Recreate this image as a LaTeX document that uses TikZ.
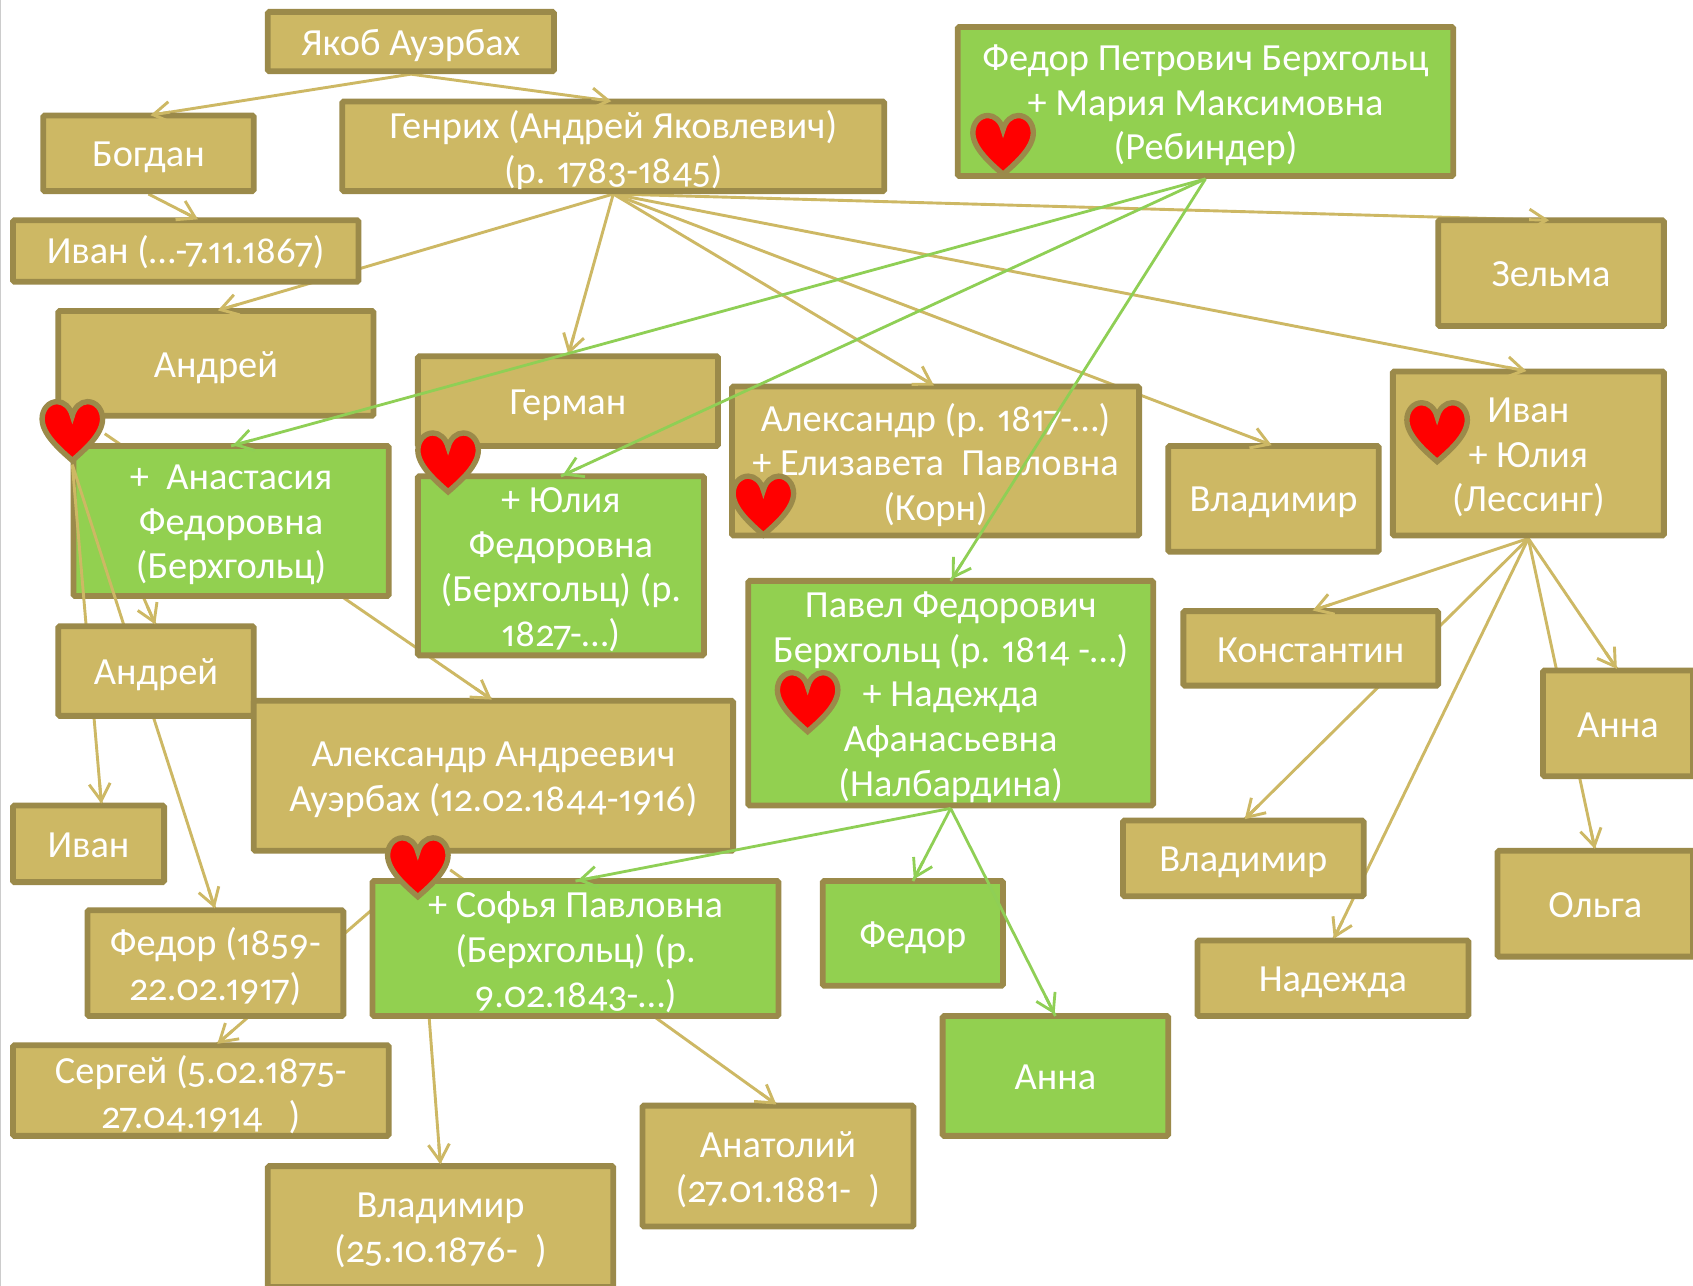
\documentclass[tikz,border=0pt]{standalone}
\usepackage{fontspec}
\setmainfont[Numbers={OldStyle,Proportional}]{Carlito}
\usetikzlibrary{arrows.meta,calc}
\pgfdeclarelayer{hidden}
\pgfdeclarelayer{anastlayer}
\pgfdeclarelayer{overanast}
\pgfdeclarelayer{boxes}
\pgfdeclarelayer{heads}
\pgfdeclarelayer{greenlines}
\pgfdeclarelayer{hearts}
\pgfsetlayers{main,hidden,anastlayer,overanast,boxes,heads,greenlines,hearts}
\definecolor{tanfill}{HTML}{CDB864}
\definecolor{tanedge}{HTML}{9B8A4A}
\definecolor{greenfill}{HTML}{92D050}
\definecolor{greenline}{HTML}{8FCF55}
\tikzset{
  base/.style={draw=tanedge,line width=5.8pt,rounded corners=1.5pt,outer sep=0pt,inner sep=0pt},
  tanbox/.style={base,fill=tanfill},
  greenbox/.style={base,fill=greenfill},
  boxtext/.style={text=white,align=center,inner sep=0pt,font=\fontsize{38.4}{44.8}\selectfont},
  conn/.style={line width=2.9pt,draw=tanfill},
  headtan/.style={-{Straight Barb[length=17pt,width=21pt,line width=2.9pt]},line width=2.9pt,draw=tanfill},
  gconn/.style={line width=2.8pt,draw=greenline},
  headgreen/.style={-{Straight Barb[length=17pt,width=21pt,line width=2.8pt]},line width=2.8pt,draw=greenline}
}
\def\tyo{3.6}
% box node plus its text node
\newcommand{\bx}[7][tanbox]{%
  \pgfmathsetmacro{\cxx}{(#3+#5)/2}%
  \pgfmathsetmacro{\cyy}{(#4+#6)/2}%
  \pgfmathsetmacro{\wdd}{(#5-#3)*1.0797}%
  \pgfmathsetmacro{\htt}{(#6-#4)*1.0797}%
  \node[#1,minimum width=\wdd pt,minimum height=\htt pt] (#2) at (\cxx,\cyy) {};
  \node[boxtext] (#2t) at (\cxx,\cyy+\tyo) {#7};}
\newcommand{\bs}[7][tanbox]{\def\tyo{1.4}\bx[#1]{#2}{#3}{#4}{#5}{#6}{#7}\def\tyo{3.6}}
\newcommand{\hrt}[3]{%
  \node[minimum width=64.8pt,minimum height=62pt,inner sep=0pt,outer sep=0pt] (#1) at (#2,#3) {};
  \draw[shift={(#2,#3)},line width=5.4pt,draw=tanedge,fill=red,line join=miter]
    (0,-14) .. controls (-2,-22) and (-8,-27) .. (-14,-27)
    .. controls (-22,-27) and (-28,-20) .. (-28,-11)
    .. controls (-28,3) and (-12,17) .. (0,27.5)
    .. controls (12,17) and (28,3) .. (28,-11)
    .. controls (28,-20) and (22,-27) .. (14,-27)
    .. controls (8,-27) and (2,-22) .. (0,-14) -- cycle;}
% connector: line on a given layer, head above the boxes
\newcommand{\tcn}[4]{%
  \path ([yshift=-2.9pt]#2) coordinate (cs) ([xshift=#4]#3) coordinate (ct);
  \begin{pgfonlayer}{#1}\draw[conn] (cs) -- (ct);\end{pgfonlayer}
  \begin{pgfonlayer}{heads}\draw[headtan] ($(ct)!22pt!(cs)$) -- ($(ct)!2pt!(cs)$);\end{pgfonlayer}}
\newcommand{\gcn}[2]{%
  \path ([yshift=-2.9pt]#1) coordinate (cs) (#2) coordinate (ct);
  \begin{pgfonlayer}{greenlines}\draw[gconn] (cs) -- (ct);
  \draw[headgreen] ($(ct)!22pt!(cs)$) -- ($(ct)!2pt!(cs)$);\end{pgfonlayer}}
\begin{document}
\begin{tikzpicture}[x=1.0797pt,y=-1.0797pt]
\path[use as bounding box,fill=white] (0,0) rectangle (1568,1191);
\fill[black!20] (0,0) rectangle (1.3,1191);
\begin{pgfonlayer}{anastlayer}
\bx[greenbox]{anast}{68}{413}{360}{552}{+\ \ Анастасия\\Федоровна\\(Берхгольц)}
\end{pgfonlayer}
\begin{pgfonlayer}{boxes}
\bx{yakob}{248}{11}{513}{66}{Якоб Ауэрбах}
\bx{bogdan}{40}{107}{235}{177}{Богдан}
\bx{genrih}{317}{94}{819}{177}{Генрих (Андрей Яковлевич)\\(р. 1783-1845)}
\bs{ivana}{12}{204}{332}{261}{Иван (…-7.11.1867)}
\bx{andreya}{54}{288}{346}{385}{Андрей}
\bx{german}{387}{330}{665}{413}{Герман}
\bx[greenbox]{fedorp}{887}{25}{1346}{163}{Федор Петрович Берхгольц\\+ Мария Максимовна\\(Ребиндер)}
\bs{zelma}{1332}{204}{1541}{302}{Зельма}
\bx{alex}{678}{358}{1055}{496}{Александр (р. 1817-…)\\+ Елизавета\ \ Павловна\\(Корн)}
\bx{vlada}{1082}{413}{1277}{511}{Владимир}
\bx{ivanj}{1290}{344}{1541}{496}{Иван\\+ Юлия\\(Лессинг)}
\bx[greenbox]{yulia}{387}{441}{652}{607}{+ Юлия\\Федоровна\\(Берхгольц) (р.\\1827-…)}
\bx[greenbox]{pavel}{693}{538}{1068}{746}{Павел Федорович\\Берхгольц (р. 1814 -…)\\+ Надежда\\Афанасьевна\\(Налбардина)}
\bs{konst}{1096}{566}{1332}{635}{Константин}
\bs{annaa}{1429}{621}{1568}{719}{Анна}
\bx{andreyb}{54}{580}{235}{663}{Андрей}
\bx{alexa}{235}{649}{679}{788}{Александр Андреевич\\Ауэрбах (12.02.1844-1916)}
\bs{ivanb}{12}{746}{152}{817}{Иван}
\bx{vladb}{1040}{760}{1263}{830}{Владимир}
\bs{olga}{1387}{788}{1568}{886}{Ольга}
\bx{fedorj}{81}{843}{318}{941}{Федор (1859-\\22.02.1917)}
\bx[greenbox]{sofia}{345}{816}{721}{941}{+ Софья Павловна\\(Берхгольц) (р.\\9.02.1843-…)}
\bx[greenbox]{fedorb}{762}{816}{929}{913}{Федор}
\bx{nadezhda}{1109}{871}{1360}{941}{Надежда}
\bx{sergey}{12}{968}{360}{1052}{Сергей (5.02.1875-\\27.04.1914\ \ \ )}
\bs[greenbox]{annab}{873}{941}{1082}{1052}{Анна}
\bx{anatoliy}{595}{1024}{846}{1136}{Анатолий\\(27.01.1881-\ \ )}
\bx{vladc}{248}{1080}{568}{1192}{Владимир\\(25.10.1876-\ \ )}
\end{pgfonlayer}
\begin{pgfonlayer}{hearts}
\hrt{ha}{67}{399}
\hrt{hb}{415}{428}
\hrt{hc}{929}{134}
\hrt{hd}{707}{468}
\hrt{he}{1331}{400}
\hrt{hf}{748}{650}
\hrt{hg}{387}{803}
\end{pgfonlayer}
\tcn{hidden}{yakob.south}{bogdan.north}{0pt}
\tcn{hidden}{yakob.south}{genrih.north}{0pt}
\tcn{hidden}{bogdan.south}{ivana.north}{14pt}
\tcn{hidden}{genrih.south}{andreya.north}{0pt}
\tcn{hidden}{genrih.south}{german.north}{0pt}
\tcn{hidden}{genrih.south}{alex.north}{0pt}
\tcn{hidden}{genrih.south}{vlada.north}{0pt}
\tcn{hidden}{genrih.south}{ivanj.north}{0pt}
\tcn{hidden}{genrih.south}{zelma.north}{0pt}
\tcn{hidden}{ha.center}{andreyb.north}{0pt}
\tcn{hidden}{ha.east}{alexa.north}{0pt}
\tcn{hidden}{ivanj.south}{konst.north}{0pt}
\tcn{hidden}{ivanj.south}{annaa.north}{0pt}
\tcn{hidden}{ivanj.south}{vladb.north}{0pt}
\tcn{hidden}{ivanj.south}{nadezhda.north}{0pt}
\tcn{hidden}{ivanj.south}{olga.north}{0pt}
\tcn{hidden}{hg.center}{sergey.north}{15pt}
\tcn{hidden}{hg.east}{anatoliy.north}{0pt}
\tcn{hidden}{hg.center}{vladc.north}{0pt}
\tcn{overanast}{ha.south}{ivanb.north}{13pt}
\tcn{overanast}{ha.south}{fedorj.north}{0pt}
\gcn{fedorp.south}{anast.north}
\gcn{fedorp.south}{yulia.north}
\gcn{fedorp.south}{pavel.north}
\gcn{pavel.south}{sofia.north}
\gcn{pavel.south}{fedorb.north}
\gcn{pavel.south}{annab.north}
\end{tikzpicture}
\end{document}
